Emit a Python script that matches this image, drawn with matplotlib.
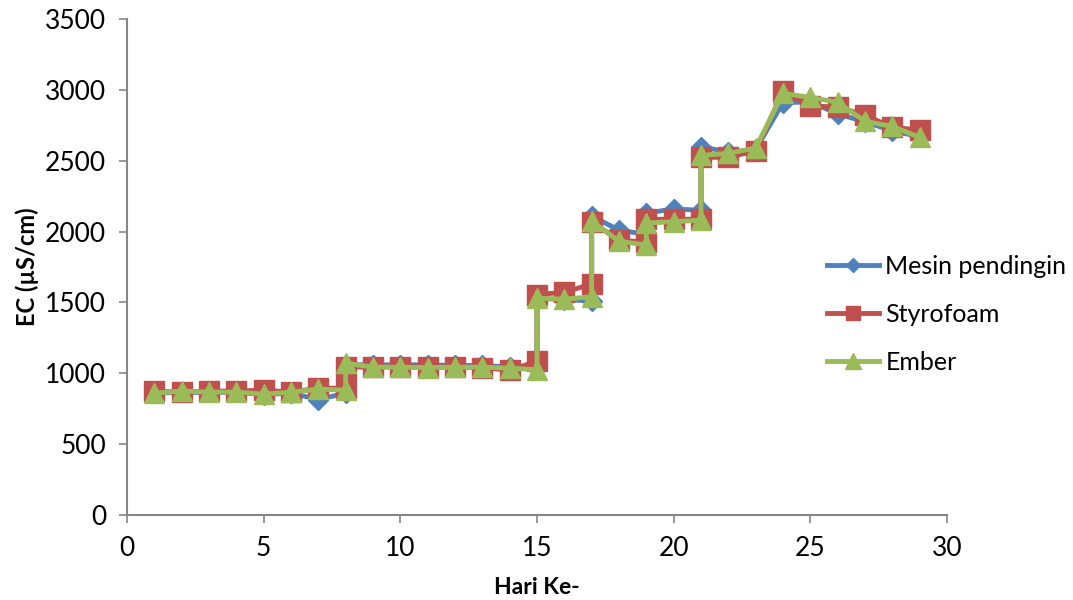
import matplotlib
matplotlib.use("Agg")
import matplotlib.pyplot as plt

# Hari pengamatan (ada dua pengukuran pada hari 8, 15, 17, 19 dan 21)
hari = [1, 2, 3, 4, 5, 6, 7, 8, 8, 9, 10, 11, 12, 13, 14, 15, 15, 16, 17, 17,
        18, 19, 19, 20, 21, 21, 22, 23, 24, 25, 26, 27, 28, 29]

# EC (uS/cm) tiap perlakuan
mesin_pendingin = [860, 865, 865, 865, 850, 860, 815, 860, 1060, 1060, 1060, 1060,
                   1055, 1055, 1045, 1035, 1530, 1520, 1510, 2110, 2010, 1980, 2130,
                   2160, 2150, 2600, 2560, 2580, 2910, 2915, 2830, 2775, 2710, 2670]
styrofoam = [874, 867, 874, 874, 881, 867, 895, 895, 1043, 1045, 1045, 1045, 1045,
             1040, 1022, 1085, 1555, 1572, 1630, 2066, 1940, 1925, 2087, 2087, 2087,
             2524, 2524, 2570, 2990, 2885, 2880, 2820, 2737, 2715]
ember = [860, 874, 867, 867, 853, 867, 888, 881, 1072, 1043, 1043, 1040, 1043, 1043,
         1036, 1025, 1530, 1523, 1540, 2073, 1932, 1905, 2060, 2070, 2080, 2538, 2552,
         2590, 2975, 2947, 2912, 2778, 2742, 2665]

plt.rcParams['font.family'] = ['Lato', 'DejaVu Sans']

fig = plt.figure(figsize=(10.73, 6.0), dpi=100)
ax = fig.add_axes([127 / 1073, 1 - 515 / 600, (947 - 127) / 1073, (515 - 19) / 600])

ax.plot(hari, mesin_pendingin, color='#4F81BD', lw=3.5, marker='D', ms=10,
        mec='#4F81BD', label='Mesin pendingin', zorder=3)
ax.plot(hari, styrofoam, color='#C0504D', lw=3.5, marker='s', ms=14,
        mec='#C0504D', label='Styrofoam', zorder=4)
ax.plot(hari, ember, color='#9BBB59', lw=3.5, marker='^', ms=15,
        mec='#9BBB59', label='Ember', zorder=5)

ax.set_xlim(0, 30)
ax.set_ylim(0, 3500)
ax.set_xticks(range(0, 31, 5))
ax.set_yticks(range(0, 3501, 500))

for side in ['top', 'right']:
    ax.spines[side].set_visible(False)
for side in ['left', 'bottom']:
    ax.spines[side].set_color('#868686')
    ax.spines[side].set_linewidth(1.5)
ax.tick_params(axis='both', direction='out', length=6, width=1.2, color='#868686',
               labelsize=19)
ax.tick_params(axis='y', pad=9)
ax.tick_params(axis='x', pad=9)

ax.set_xlabel('Hari Ke-', fontsize=16.5, fontweight='bold', labelpad=12)
ax.set_ylabel('EC (µS/cm)', fontsize=17, fontweight='bold', labelpad=4)

fig.legend(loc='upper left', bbox_to_anchor=(827 / 1073, 1 - 255 / 600),
           frameon=False, fontsize=18, handlelength=2.08, handletextpad=0.25,
           labelspacing=1.0, borderpad=0, borderaxespad=0, markerscale=0.75)

fig.savefig('out.png', dpi=100, facecolor='white')
